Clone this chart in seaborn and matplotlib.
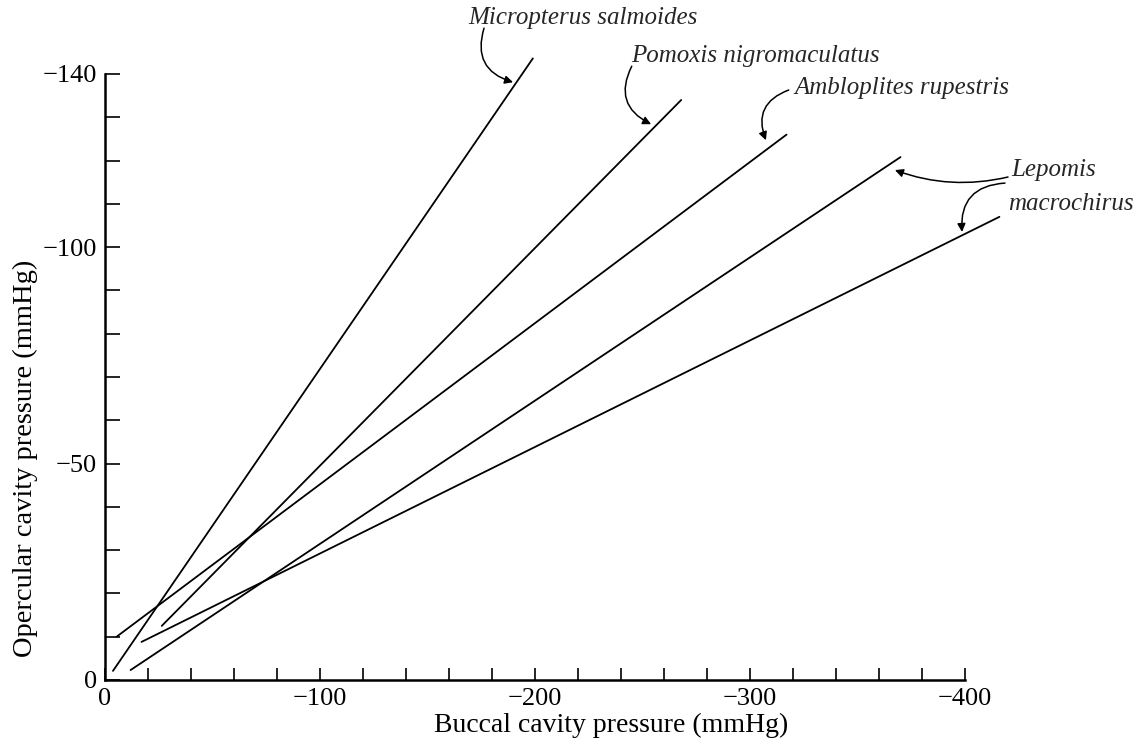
import numpy as np
import pandas as pd
import matplotlib
matplotlib.use("Agg")
import matplotlib.pyplot as plt
import seaborn as sns

# ---- data ----
species = ["Micropterus salmoides", "Pomoxis nigromaculatus", "Ambloplites rupestris",
           "Lepomis macrochirus (a)", "Lepomis macrochirus (b)"]
micropterus_buccal = [-3.7, -199.0]
micropterus_opercular = [-2.1, -143.6]
pomoxis_buccal = [-26.4, -268.0]
pomoxis_opercular = [-12.5, -134.0]
ambloplites_buccal = [-5.4, -317.0]
ambloplites_opercular = [-10.0, -126.0]
lepomis_a_buccal = [-11.9, -370.0]
lepomis_a_opercular = [-2.3, -120.8]
lepomis_b_buccal = [-17.0, -416.0]
lepomis_b_opercular = [-8.8, -107.0]

x_major = [0, -100, -200, -300, -400]
y_major = [0, -50, -100, -140]

buccal = [micropterus_buccal, pomoxis_buccal, ambloplites_buccal, lepomis_a_buccal, lepomis_b_buccal]
opercular = [micropterus_opercular, pomoxis_opercular, ambloplites_opercular,
             lepomis_a_opercular, lepomis_b_opercular]

rows = []
for name, xs, ys in zip(species, buccal, opercular):
    for x, y in zip(xs, ys):
        rows.append({"species": name, "buccal": x, "opercular": y})
df = pd.DataFrame(rows)

sns.set_theme(style="ticks")
plt.rcParams["font.family"] = ["Liberation Serif", "DejaVu Serif"]

fig = plt.figure(figsize=(11.35, 7.42), dpi=100)
ax = fig.add_axes([105 / 1135, 62 / 742, 860 / 1135, 606 / 742])

sns.lineplot(data=df, x="buccal", y="opercular", hue="species", estimator=None, sort=False,
             palette=["black"] * len(species), legend=False, linewidth=1.3, ax=ax)
for ln in ax.lines:
    ln.set_clip_on(False)

ax.set_xlim(0, -400)
ax.set_ylim(0, -140)
sns.despine(ax=ax)
for s in ["left", "bottom"]:
    ax.spines[s].set_linewidth(1.8)
    ax.spines[s].set_color("black")

ax.set_xticks(x_major)
ax.set_xticklabels([f"{v:d}".replace("-", "\u2212") for v in x_major])
ax.set_xticks(np.arange(-20, -400, -20), minor=True)
ax.set_yticks(y_major)
ax.set_yticklabels([f"{v:d}".replace("-", "\u2212") for v in y_major])
ax.set_yticks(np.arange(-10, -140, -10), minor=True)
ax.tick_params(axis="x", which="both", direction="in", length=9, width=1.2,
               labelsize=19, pad=6, colors="black")
ax.tick_params(axis="y", which="both", direction="in", length=11, width=1.2,
               labelsize=19, pad=6, colors="black")

ax.set_xlabel("Buccal cavity pressure (mmHg)", fontsize=20, x=0.588, labelpad=2, color="black")
ax.set_ylabel("Opercular cavity pressure (mmHg)", fontsize=20.5, y=0.366, labelpad=3, color="black")

# ---- species labels and arrows ----
label_pos = {
    "Micropterus salmoides": (-168.8, -152.9),
    "Pomoxis nigromaculatus": (-244.7, -144.1),
    "Ambloplites rupestris": (-320.5, -136.7),
    "Lepomis": (-421.4, -117.8),
    "macrochirus": (-420.0, -109.9),
}
for txt, (x, y) in label_pos.items():
    ax.text(x, y, txt, fontsize=18, style="italic", ha="left", va="center", clip_on=False)

arrows = [
    ((-176.3, -150.6), (-189.8, -138.1), "arc3,rad=0.5"),
    ((-245.0, -141.8), (-254.0, -128.4), "arc3,rad=0.5"),
    ((-318.0, -136.3), (-307.4, -124.7), "arc3,rad=0.5"),
    ((-420.0, -116.2), (-367.4, -117.8), "arc3,rad=-0.15"),
    ((-418.6, -114.8), (-398.6, -103.5), "arc3,rad=0.5"),
]
for tail, tip, cs in arrows:
    ax.annotate("", xy=tip, xytext=tail, xycoords="data", textcoords="data",
                annotation_clip=False,
                arrowprops=dict(arrowstyle="-|>", color="black", lw=1.1,
                                connectionstyle=cs, mutation_scale=12,
                                shrinkA=0, shrinkB=0))

fig.savefig("out.png", dpi=100, facecolor="white")
